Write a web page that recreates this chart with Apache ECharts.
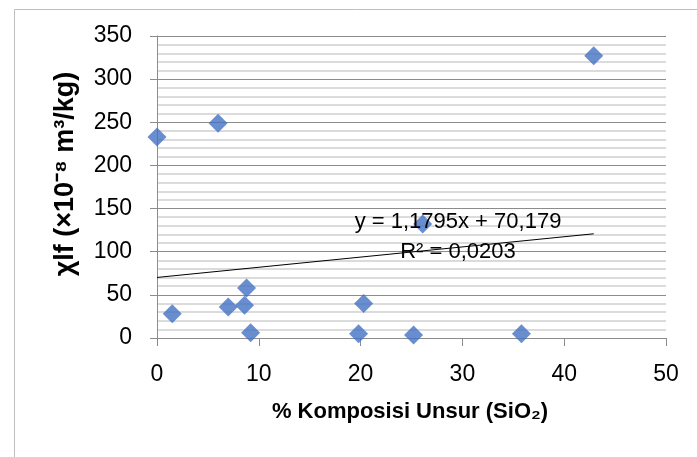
<!DOCTYPE html>
<html>
<head>
<meta charset="utf-8">
<script src="https://cdn.jsdelivr.net/npm/echarts@6/dist/echarts.min.js"></script>
<style>
html,body{margin:0;padding:0;background:#fff;}
#chart{width:697px;height:457px;}
</style>
</head>
<body>
<div id="chart"></div>
<script>
// Data
const siO2 = [0, 1.5, 6.0, 7.0, 8.6, 8.8, 9.2, 19.8, 20.3, 25.2, 26.1, 35.8, 42.9];
const chiLf = [233, 28, 249, 36, 38, 58, 6, 5, 40, 3.5, 132, 5, 327];
const xTicks = [0, 10, 20, 30, 40, 50];
const yTicks = [0, 50, 100, 150, 200, 250, 300, 350];
const slope = 1.1795;
const intercept = 70.179;
const equationText = 'y = 1,1795x + 70,179';
const r2Text = 'R² = 0,0203';
const xTitle = '% Komposisi Unsur (SiO₂)';
const yTitle = 'χlf (×10⁻⁸ m³/kg)';

const points = siO2.map((x, i) => [x, chiLf[i]]);
const xMinData = Math.min(...siO2), xMaxData = Math.max(...siO2);
const trend = [[xMinData, slope * xMinData + intercept], [xMaxData, slope * xMaxData + intercept]];

const font = '"Liberation Sans", Arial, sans-serif';
const chart = echarts.init(document.getElementById('chart'), null, {renderer: 'canvas'});
chart.setOption({
  animation: false,
  backgroundColor: '#fff',
  grid: {left: 157, right: 31, top: 36, bottom: 119, containLabel: false},
  xAxis: {
    type: 'value', min: xTicks[0], max: xTicks[xTicks.length - 1], interval: 10,
    axisLine: {show: true, onZero: false, lineStyle: {color: '#8c8c8c', width: 1}},
    axisTick: {show: true, length: 8, inside: false, lineStyle: {color: '#8c8c8c'}},
    axisLabel: {fontSize: 23, color: '#000', fontFamily: font, margin: 25},
    splitLine: {show: false}
  },
  yAxis: {
    type: 'value', min: yTicks[0], max: yTicks[yTicks.length - 1], interval: 50,
    axisLine: {show: true, lineStyle: {color: '#8c8c8c', width: 1}},
    axisTick: {show: true, length: 7, inside: false, lineStyle: {color: '#8c8c8c'}},
    axisLabel: {fontSize: 23, color: '#000', fontFamily: font, margin: 25},
    splitLine: {show: true, lineStyle: {color: '#8c8c8c', width: 1}},
    minorTick: {show: false, splitNumber: 5},
    minorSplitLine: {show: true, lineStyle: {color: '#cfcfcf', width: 1.5}}
  },
  series: [
    {
      type: 'scatter', data: points, symbol: 'diamond', symbolSize: 19,
      itemStyle: {color: '#4472C4'}, z: 3
    },
    {
      type: 'line', data: trend, showSymbol: false, symbol: 'none',
      lineStyle: {color: '#000', width: 1}, z: 2, silent: true
    }
  ],
  graphic: [
    {type: 'rect', left: 12, top: 7, z: -1, silent: true,
     shape: {x: 0, y: 0, width: 720, height: 480},
     style: {fill: 'none', stroke: '#bfbfbf', lineWidth: 1}},
    {type: 'text', x: 458, y: 222, z: 10,
     style: {text: equationText, fontSize: 22, fontFamily: font, fill: '#000', align: 'center', verticalAlign: 'middle'}},
    {type: 'text', x: 458, y: 252, z: 10,
     style: {text: r2Text, fontSize: 22, fontFamily: font, fill: '#000', align: 'center', verticalAlign: 'middle'}},
    {type: 'text', x: 410, y: 412,
     style: {text: xTitle, fontSize: 22, fontWeight: 'bold', fontFamily: font, fill: '#000', align: 'center', verticalAlign: 'middle'}},
    {type: 'text', x: 66, y: 174, rotation: Math.PI / 2,
     style: {text: yTitle, fontSize: 27, fontWeight: 'bold', fontFamily: font, fill: '#000', align: 'center', verticalAlign: 'middle'}}
  ]
});
</script>
</body>
</html>
